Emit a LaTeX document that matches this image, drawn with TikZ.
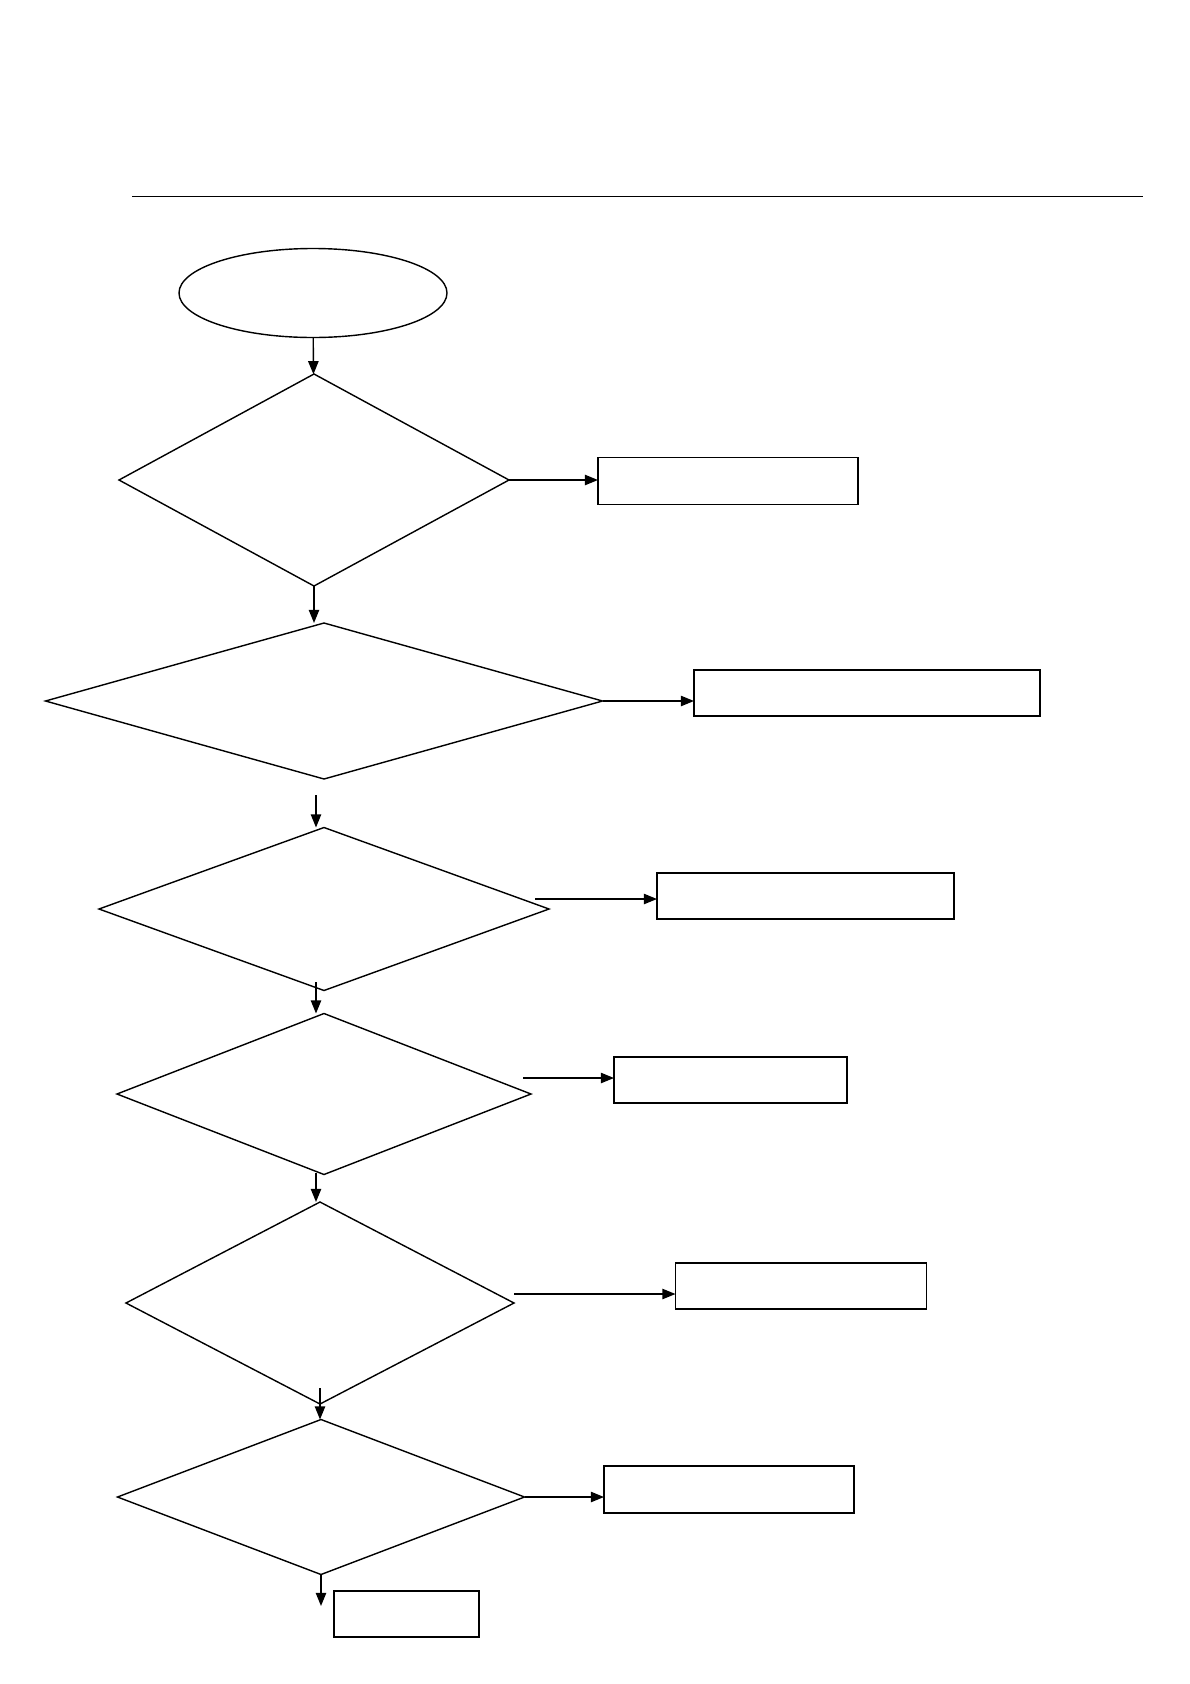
\documentclass[tikz,border=0pt]{standalone}
\usepackage{xcolor}
\usepackage{tikz}
\usetikzlibrary{arrows.meta, positioning, calc, shapes.geometric}

\begin{document}
\begin{tikzpicture}[
    x=0.025cm, y=-0.025cm,
    keputusan/.style 2 args={draw, diamond, inner sep=0pt, outer sep=0pt,
                    minimum width=#1*0.025cm, minimum height=#2*0.025cm, line width=1pt},
    kotak/.style 2 args={draw, rectangle, inner sep=0pt, outer sep=0pt,
                    minimum width=#1*0.025cm, minimum height=#2*0.025cm, line width=1.4pt},
    panah/.style={-{Triangle[length=0.33cm, width=0.26cm]}, line width=1pt}
  ]
    \useasboundingbox (0,0) rectangle (1190,1684);
    \coordinate (garisA) at (132,196.5);
    \coordinate (garisB) at (1143,196.5);
    \draw[line width=1pt] (garisA) -- (garisB);

    \node[draw, ellipse, inner sep=0pt, outer sep=0pt, minimum width=268*0.025cm,
          minimum height=89*0.025cm, line width=1pt] (mulai) at (313,293) {};

    \node[keputusan={390}{212}] (cek1) at (314,480) {};
    \node[keputusan={557}{156}] (cek2) at (324,701) {};
    \node[keputusan={450}{163}] (cek3) at (324,909) {};
    \node[keputusan={414}{161}] (cek4) at (324,1094) {};
    \node[keputusan={388}{202}] (cek5) at (320,1303) {};
    \node[keputusan={407}{155}] (cek6) at (321,1497) {};

    \node[kotak={260}{47}] (hasil1) at (728,481) {};
    \node[kotak={346}{46}] (hasil2) at (867,693) {};
    \node[kotak={297}{46}] (hasil3) at (805.5,896) {};
    \node[kotak={233}{46}] (hasil4) at (730.5,1080) {};
    \node[kotak={251}{46}] (hasil5) at (801,1286) {};
    \node[kotak={250}{47}] (hasil6) at (729,1489.5) {};
    \node[kotak={145}{46}] (akhir) at (406.5,1614) {};

    % titik bebas untuk panah yang tidak menempel
    \coordinate (t2) at (316,795);
    \coordinate (t3) at (316,982);
    \coordinate (t4) at (316,1173);
    \coordinate (t5) at (320,1388);
    \coordinate (s3) at (535,899);
    \coordinate (s4) at (523,1078);
    \coordinate (s5) at (514,1294);
    \coordinate (ujung) at (321,1606);

    \draw[panah] (mulai) -- (cek1);
    \draw[panah] (cek1.south) -- (cek1.south |- cek2.north);
    \draw[panah] (t2) -- (t2 |- cek3.north);
    \draw[panah] (t3) -- (t3 |- cek4.north);
    \draw[panah] (t4) -- (t4 |- cek5.north);
    \draw[panah] (t5) -- (t5 |- cek6.north);
    \draw[panah] (cek6.south) -- (ujung);

    \draw[panah] (cek1.east) -- (cek1.east -| hasil1.west);
    \draw[panah] (cek2.east) -- (cek2.east -| hasil2.west);
    \draw[panah] (s3) -- (s3 -| hasil3.west);
    \draw[panah] (s4) -- (s4 -| hasil4.west);
    \draw[panah] (s5) -- (s5 -| hasil5.west);
    \draw[panah] (cek6.east) -- (cek6.east -| hasil6.west);
  \end{tikzpicture}
\end{document}
